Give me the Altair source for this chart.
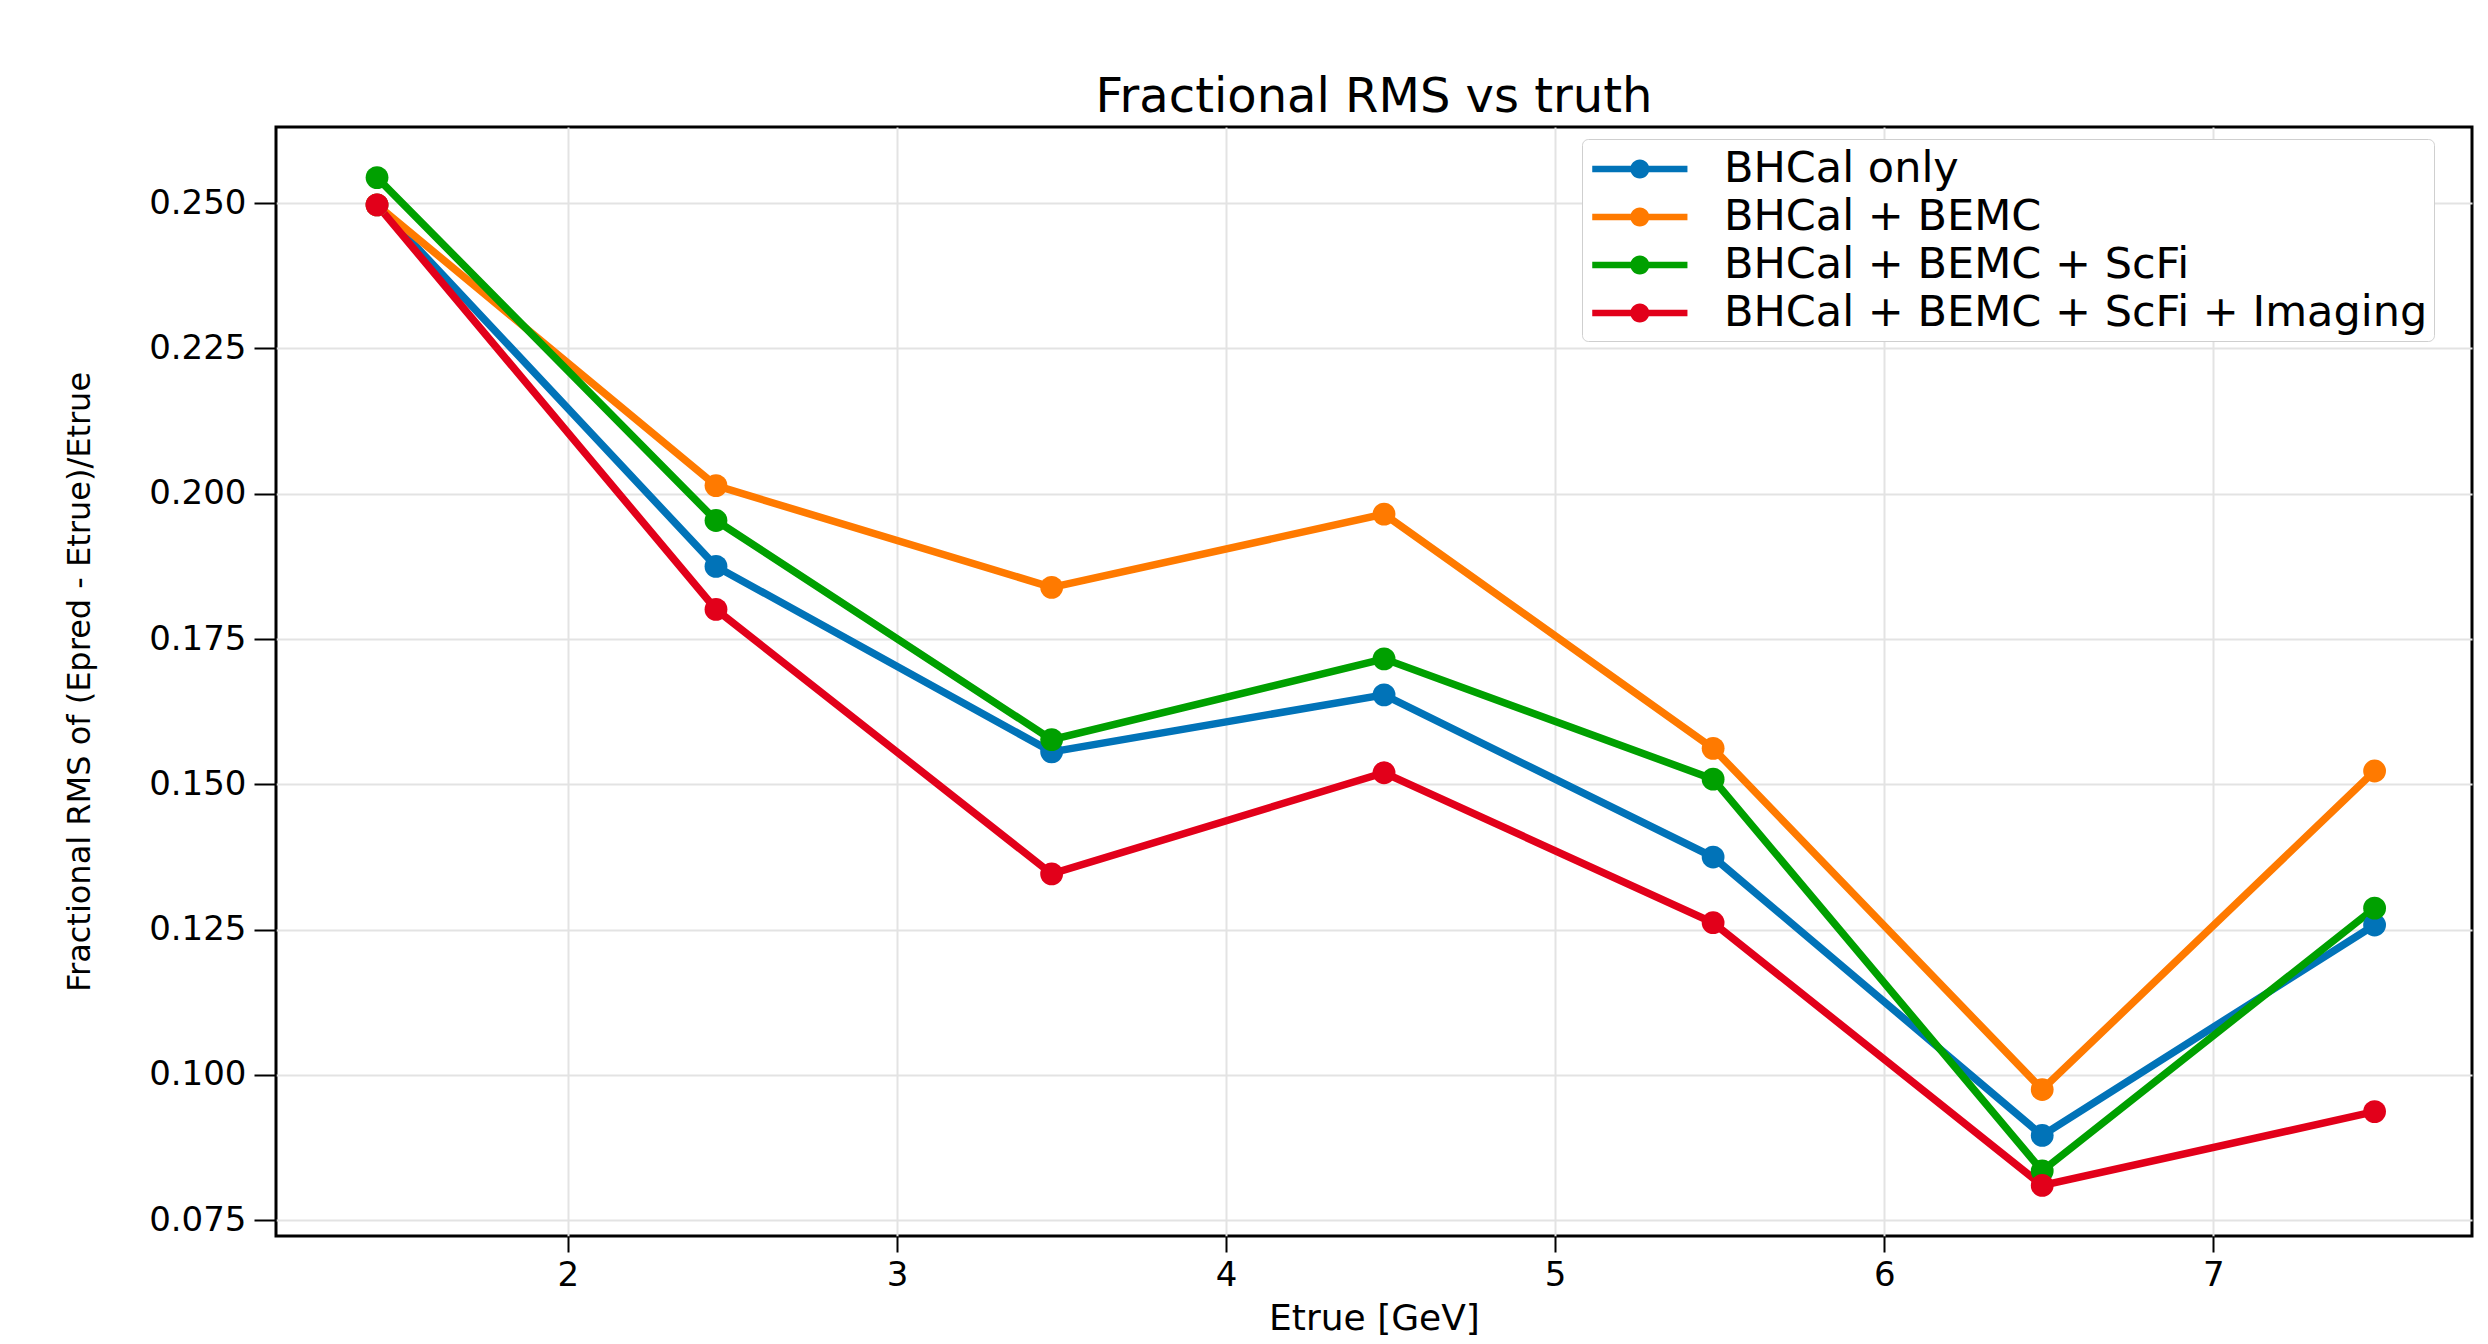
import altair as alt
import pandas as pd

# ---- data ----
etrue = [1.42, 2.45, 3.47, 4.48, 5.48, 6.48, 7.49]
series_names = [
    "BHCal only",
    "BHCal + BEMC",
    "BHCal + BEMC + ScFi",
    "BHCal + BEMC + ScFi + Imaging",
]
bhcal_only = [0.2497, 0.1875, 0.1556, 0.1654, 0.1375, 0.0896, 0.1258]
bhcal_bemc = [0.2497, 0.2014, 0.1839, 0.1965, 0.1562, 0.0975, 0.1523]
bhcal_bemc_scfi = [0.2544, 0.1954, 0.1577, 0.1716, 0.1509, 0.0835, 0.1287]
bhcal_bemc_scfi_img = [0.2497, 0.1801, 0.1346, 0.1520, 0.1262, 0.0810, 0.0937]
colors = ["#0173B8", "#FF7A00", "#00A000", "#E2001A"]
x_ticks = [2, 3, 4, 5, 6, 7]
y_ticks = [0.075, 0.100, 0.125, 0.150, 0.175, 0.200, 0.225, 0.250]

rows = []
for name, vals in zip(series_names, [bhcal_only, bhcal_bemc, bhcal_bemc_scfi, bhcal_bemc_scfi_img]):
    for i, (x, y) in enumerate(zip(etrue, vals)):
        rows.append({"series": name, "Etrue": x, "rms": y, "order": i})
df = pd.DataFrame(rows)

FONT = "DejaVu Sans"
W, H = 2196, 1109

color_scale = alt.Scale(domain=series_names, range=colors)
x_enc = alt.X(
    "Etrue:Q",
    scale=alt.Scale(domain=[1.113, 7.786], nice=False, zero=False),
    axis=alt.Axis(
        values=x_ticks, format="d", title="Etrue [GeV]",
        labelFontSize=34, labelFont=FONT, labelColor="black", labelPadding=6,
        tickSize=16, tickColor="black", tickWidth=2,
        titleFontSize=36, titleFont=FONT, titleFontWeight="normal", titleColor="black",
        titleY=82, titleBaseline="middle",
        grid=True, gridColor="#e3e3e3", gridWidth=2, domain=False,
    ),
)
y_enc = alt.Y(
    "rms:Q",
    scale=alt.Scale(domain=[0.0723, 0.2631], nice=False, zero=False),
    axis=alt.Axis(
        values=y_ticks, format=".3f", title="Fractional RMS of (Epred - Etrue)/Etrue",
        labelFontSize=34, labelFont=FONT, labelColor="black", labelPadding=8,
        tickSize=22, tickColor="black", tickWidth=2,
        titleFontSize=32, titleFont=FONT, titleFontWeight="normal", titleColor="black",
        titleX=-197, titleY=H / 2, titleBaseline="middle", titleAlign="center", titleAngle=-90,
        grid=True, gridColor="#e3e3e3", gridWidth=2, domain=False,
    ),
)

legend_path = (
    "M-0.83,-0.14L3.17,-0.14L3.17,0.14L-0.83,0.14Z"
    "M1.57,0A0.4,0.4,0,1,1,0.77,0A0.4,0.4,0,1,1,1.57,0Z"
)
legend = alt.Legend(
    title=None, orient="none", legendX=1306, legendY=12,
    fillColor="white", strokeColor="#cfcfcf", cornerRadius=6,
    padding=6, labelFontSize=43, labelFont=FONT, labelColor="black", labelLimit=2000,
    symbolType=legend_path, symbolSize=2266, symbolStrokeWidth=0,
    labelOffset=88, rowPadding=2, symbolOpacity=1,
)

lines = alt.Chart(df).mark_line(strokeWidth=7.5, clip=True).encode(
    x=x_enc,
    y=y_enc,
    color=alt.Color("series:N", scale=color_scale, legend=legend),
    order="order:Q",
)
points = alt.Chart(df).mark_point(filled=True, size=520, opacity=1, clip=True).encode(
    x=x_enc,
    y=y_enc,
    color=alt.Color("series:N", scale=color_scale, legend=legend),
)

chart = alt.layer(lines, points).properties(
    width=W,
    height=H,
    title=alt.Title("Fractional RMS vs truth", fontSize=48, font=FONT, fontWeight="normal",
                    color="black", offset=5),
    autosize=alt.AutoSizeParams(type="none"),
    padding={"left": 268, "top": 119, "right": 8, "bottom": 100},
).configure(
    background="white",
    view=alt.ViewConfig(stroke="black", strokeWidth=3),
)

chart.save("out.html", embed_options={"renderer": "svg", "actions": False})
